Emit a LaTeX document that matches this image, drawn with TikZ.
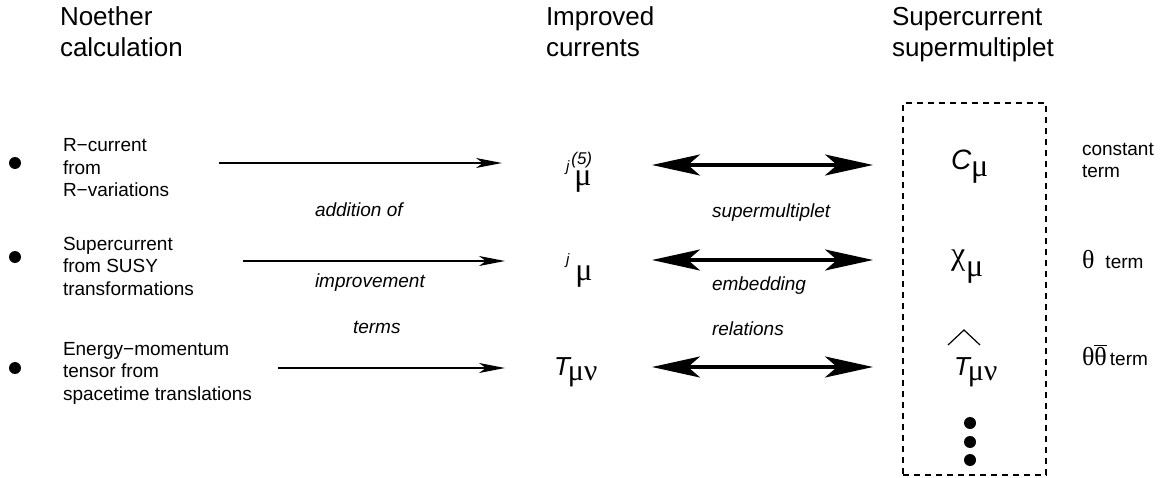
\documentclass[tikz,border=0pt]{standalone}
\usepackage{fontspec}
\setmainfont{Liberation Sans}
\newfontfamily\grk{Liberation Serif}
\usetikzlibrary{arrows.meta}
\newcommand{\fsz}[1]{\fontsize{#1}{#1}\selectfont}
\begin{document}
\begin{tikzpicture}[x=1pt,y=-1pt,
  every node/.style={inner sep=0pt,outer sep=0pt},
  hdr/.style={anchor=base west,align=left,font=\fontsize{26}{31}\selectfont},
  lbl/.style={anchor=base west,align=left,font=\fontsize{19}{22.5}\selectfont},
  itl/.style={anchor=base west,font=\fontsize{19}{22}\selectfont\itshape},
  sym/.style={anchor=base west},
  bullet/.style={circle,fill,minimum size=12pt},
  sarr/.style={-{Stealth[length=26pt,width=10pt,inset=7pt]},line width=1.3pt},
  darr/.style={{Stealth[length=48pt,width=21pt,inset=12pt]}-{Stealth[length=48pt,width=21pt,inset=12pt]},line width=3.2pt},
  dbox/.style={draw,dash pattern=on 6pt off 5pt,line width=1.8pt}]
\useasboundingbox (0,0) rectangle (1166,478);

% headers (base anchor = last line)
\node[hdr] (h1) at (60,57) {Noether\\calculation};
\node[hdr] (h2) at (546,57) {Improved\\currents};
\node[hdr] (h3) at (892,57) {Supercurrent\\supermultiplet};

% bullets and left labels
\node[bullet] (b1) at (15,163) {};
\node[bullet] (b2) at (15,257) {};
\node[bullet] (b3) at (15,368) {};
\node[lbl] (l1) at (63,197) {R−current\\from\\R−variations};
\node[lbl] (l2) at (63,295) {Supercurrent\\from SUSY\\transformations};
\node[lbl] (l3) at (63,400) {Energy−momentum\\tensor from\\spacetime translations};

% middle italic labels
\node[itl] (m1) at (315,217) {addition of};
\node[itl] (m2) at (315,287) {improvement};
\node[itl] (m3) at (353,333) {terms};
\node[itl] (r1) at (712,218) {supermultiplet};
\node[itl] (r2) at (712,290) {embedding};
\node[itl] (r3) at (712,335) {relations};

% improved currents
\node[sym] (j5) at (566,172) {\fsz{15}\itshape j\kern2pt\rlap{\raisebox{7pt}{\fsz{17}(5)}}\kern3pt\raisebox{-14pt}{\fsz{32}\upshape\grk μ}};
\node[sym] (jm) at (566,264) {\fsz{15}\itshape j\kern6pt\raisebox{-17pt}{\fsz{32}\upshape\grk μ}};
\node[sym] (T) at (554,375) {\fsz{26}\itshape T\kern-2pt\raisebox{-5pt}{\fsz{30}\upshape\grk μν}};

% supermultiplet box
\node[dbox,minimum width=143pt,minimum height=372pt] (box) at (974.5,289) {};
\node[sym] (C) at (951,170) {\fsz{28}\itshape C\raisebox{-7pt}{\fsz{32}\upshape\grk μ}};
\node[sym] (chi) at (951,265) {\fsz{32}\grk χ\kern1pt\raisebox{-11pt}{μ}};
\node[sym] (hT) at (954,375) {\fsz{26}\itshape T\kern-2pt\raisebox{-5pt}{\fsz{30}\upshape\grk μν}};
\draw[line width=1.2pt] (948,345) -- (964,330) -- (980,345);
\node[bullet] (d1) at (970,423) {};
\node[bullet] (d2) at (970,442) {};
\node[bullet] (d3) at (970,460) {};

% right labels
\node[lbl] (t1) at (1082,178) {constant\\term};
\node[anchor=base west,font=\fsz{19}] (t2) at (1082,269) {{\fsz{26}\grk θ}\kern11pt term};
\node[anchor=base west,font=\fsz{19}] (t3) at (1082,365) {{\fsz{26}\grk θ$\overline{\hbox{\fsz{26}\grk θ}}$}\kern3pt term};

% arrows
\coordinate (s1a) at (219,163); \coordinate (s1b) at (502,163);
\coordinate (s2a) at (243,261); \coordinate (s2b) at (505,261);
\coordinate (s3a) at (278,368); \coordinate (s3b) at (505,368);
\draw[sarr] (s1a) -- (s1b);
\draw[sarr] (s2a) -- (s2b);
\draw[sarr] (s3a) -- (s3b);
\coordinate (d1a) at (652,165); \coordinate (d1b) at (873,165);
\coordinate (d2a) at (652,260); \coordinate (d2b) at (873,260);
\coordinate (d3a) at (652,367); \coordinate (d3b) at (873,367);
\draw[darr] (d1a) -- (d1b);
\draw[darr] (d2a) -- (d2b);
\draw[darr] (d3a) -- (d3b);
\end{tikzpicture}
\end{document}
